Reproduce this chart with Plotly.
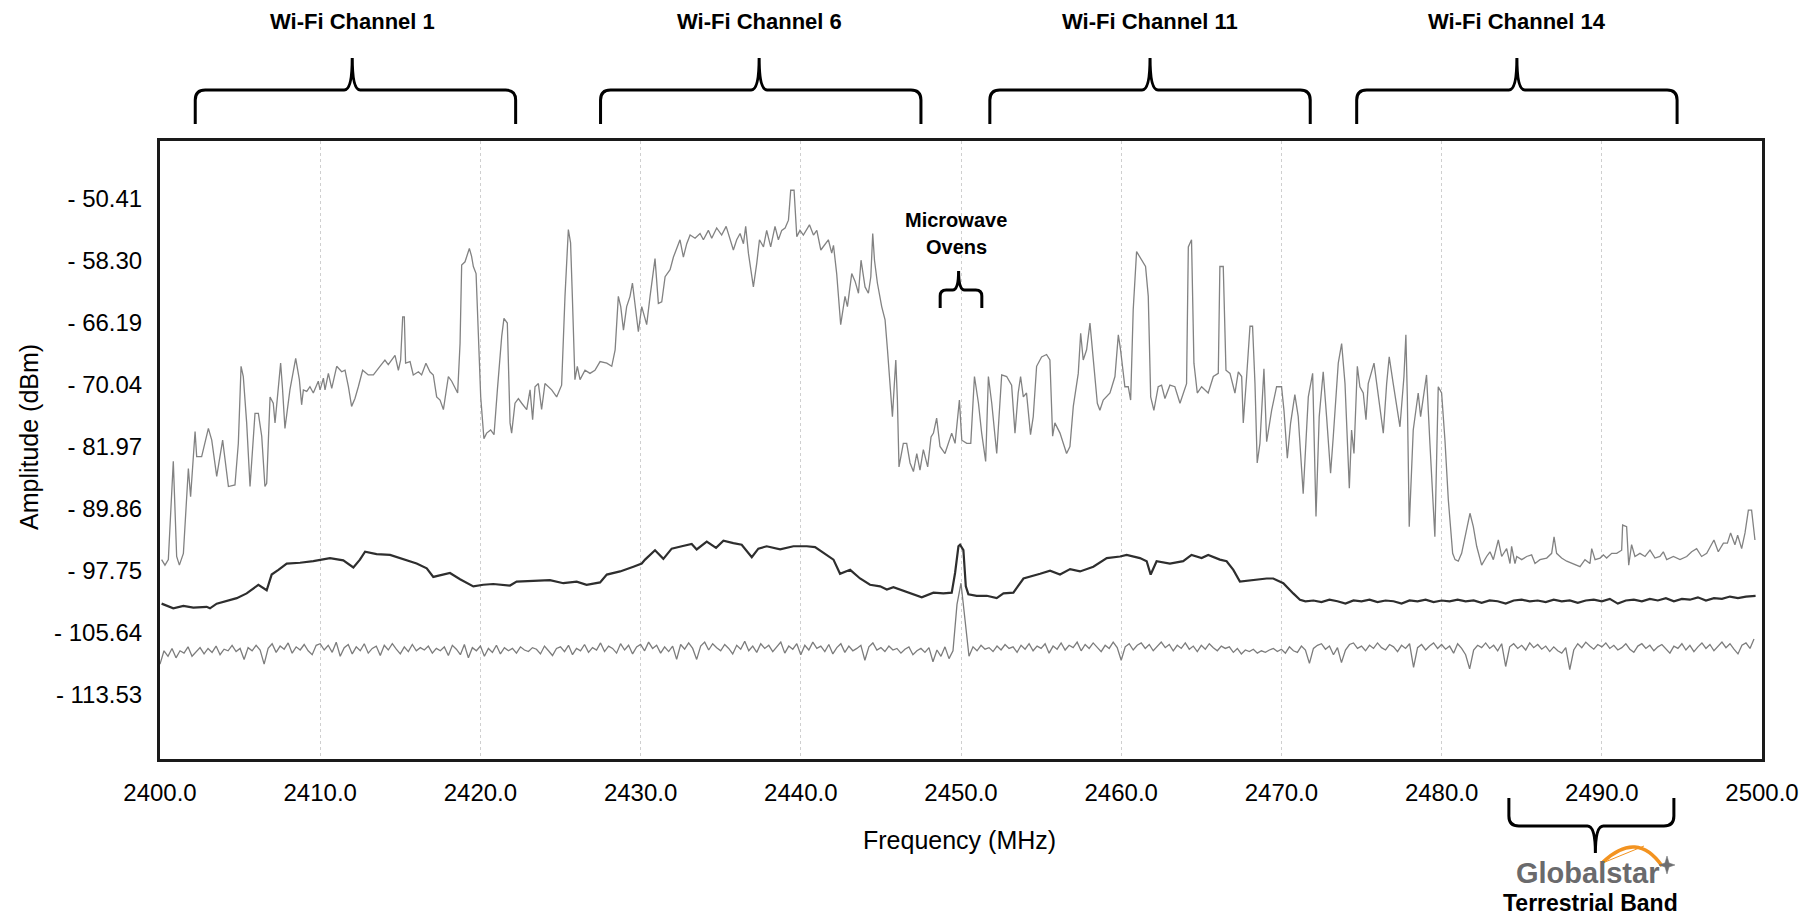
import plotly.graph_objects as go

# ---------------------------------------------------------------- data
# Max-hold sweep (light trace): frequency (MHz) / amplitude (dBm)
TOP_FREQ = [
    2400.10, 2400.31, 2400.52, 2400.83, 2401.04, 2401.21, 2401.46, 2401.77, 2401.91, 2402.08,
    2402.19, 2402.29, 2402.60, 2403.02, 2403.23, 2403.54, 2403.91, 2404.27, 2404.68, 2404.89,
    2405.06, 2405.20, 2405.41, 2405.62, 2405.93, 2406.14, 2406.35, 2406.55, 2406.66, 2406.87,
    2407.07, 2407.18, 2407.39, 2407.53, 2407.64, 2407.80, 2408.11, 2408.47, 2408.70, 2408.84,
    2408.95, 2409.16, 2409.36, 2409.57, 2409.88, 2409.99, 2410.20, 2410.30, 2410.51, 2410.72,
    2411.03, 2411.34, 2411.55, 2411.76, 2411.96, 2412.17, 2412.38, 2412.65, 2413.00, 2413.32,
    2413.73, 2414.04, 2414.25, 2414.46, 2414.67, 2414.88, 2415.02, 2415.15, 2415.25, 2415.33,
    2415.61, 2415.81, 2416.13, 2416.33, 2416.60, 2416.85, 2417.06, 2417.27, 2417.48, 2417.69,
    2418.00, 2418.21, 2418.58, 2418.73, 2418.83, 2419.04, 2419.31, 2419.45, 2419.56, 2419.73,
    2419.87, 2420.02, 2420.22, 2420.39, 2420.64, 2420.85, 2421.06, 2421.33, 2421.47, 2421.68,
    2421.85, 2421.95, 2422.16, 2422.37, 2422.58, 2422.89, 2423.10, 2423.26, 2423.41, 2423.62,
    2423.82, 2424.03, 2424.45, 2424.76, 2425.07, 2425.28, 2425.49, 2425.63, 2425.74, 2425.90,
    2426.05, 2426.22, 2426.53, 2426.84, 2427.15, 2427.47, 2427.89, 2428.20, 2428.41, 2428.61,
    2428.76, 2428.93, 2429.13, 2429.34, 2429.49, 2429.65, 2429.86, 2430.07, 2430.38, 2430.59,
    2430.90, 2431.11, 2431.32, 2431.53, 2431.84, 2432.05, 2432.46, 2432.67, 2432.88, 2433.09,
    2433.40, 2433.71, 2433.92, 2434.23, 2434.44, 2434.75, 2435.06, 2435.34, 2435.59, 2435.79,
    2436.00, 2436.21, 2436.42, 2436.56, 2436.73, 2436.94, 2437.04, 2437.25, 2437.42, 2437.67,
    2437.87, 2438.12, 2438.39, 2438.60, 2438.81, 2439.02, 2439.23, 2439.37, 2439.58, 2439.75,
    2439.95, 2440.16, 2440.54, 2440.79, 2441.00, 2441.25, 2441.45, 2441.72, 2441.93, 2442.04,
    2442.24, 2442.49, 2442.76, 2442.91, 2443.18, 2443.39, 2443.60, 2443.76, 2444.01, 2444.22,
    2444.37, 2444.49, 2444.60, 2444.78, 2445.05, 2445.26, 2445.41, 2445.57, 2445.72, 2445.84,
    2445.93, 2446.03, 2446.13, 2446.40, 2446.61, 2446.82, 2447.03, 2447.24, 2447.44, 2447.65,
    2447.92, 2448.13, 2448.28, 2448.48, 2448.69, 2449.00, 2449.21, 2449.42, 2449.63, 2449.90,
    2450.05, 2450.36, 2450.61, 2450.84, 2451.09, 2451.29, 2451.54, 2451.71, 2451.92, 2452.23,
    2452.54, 2452.85, 2453.16, 2453.37, 2453.57, 2453.72, 2453.89, 2454.09, 2454.34, 2454.51,
    2454.72, 2455.03, 2455.34, 2455.55, 2455.72, 2455.86, 2456.18, 2456.59, 2456.80, 2457.01,
    2457.32, 2457.47, 2457.63, 2457.84, 2458.05, 2458.26, 2458.51, 2458.67, 2458.88, 2459.30,
    2459.61, 2459.82, 2459.96, 2460.23, 2460.44, 2460.59, 2460.75, 2460.96, 2461.27, 2461.52,
    2461.69, 2461.84, 2462.04, 2462.31, 2462.52, 2462.73, 2463.04, 2463.35, 2463.67, 2463.87,
    2464.08, 2464.19, 2464.39, 2464.54, 2464.75, 2465.02, 2465.43, 2465.75, 2466.06, 2466.16,
    2466.37, 2466.54, 2466.79, 2467.10, 2467.31, 2467.52, 2467.62, 2467.83, 2468.04, 2468.20,
    2468.35, 2468.49, 2468.66, 2468.91, 2469.08, 2469.39, 2469.70, 2470.01, 2470.16, 2470.37,
    2470.57, 2470.84, 2471.05, 2471.36, 2471.68, 2471.95, 2472.16, 2472.36, 2472.61, 2472.82,
    2473.07, 2473.24, 2473.55, 2473.76, 2473.97, 2474.24, 2474.38, 2474.53, 2474.74, 2474.90,
    2475.11, 2475.28, 2475.42, 2475.78, 2476.05, 2476.36, 2476.57, 2476.73, 2476.98, 2477.40,
    2477.65, 2477.77, 2477.86, 2477.98, 2478.23, 2478.54, 2478.69, 2479.06, 2479.27, 2479.58,
    2479.79, 2480.00, 2480.21, 2480.42, 2480.69, 2480.84, 2481.04, 2481.25, 2481.77, 2481.98,
    2482.19, 2482.50, 2482.81, 2483.02, 2483.23, 2483.54, 2483.75, 2484.06, 2484.27, 2484.37,
    2484.58, 2484.69, 2485.00, 2485.31, 2485.62, 2485.83, 2486.14, 2486.56, 2486.87, 2487.02,
    2487.18, 2487.49, 2487.81, 2488.22, 2488.64, 2488.95, 2489.26, 2489.37, 2489.58, 2489.89,
    2490.10, 2490.30, 2490.62, 2490.93, 2491.24, 2491.30, 2491.55, 2491.68, 2491.86, 2492.07,
    2492.38, 2492.70, 2493.01, 2493.32, 2493.63, 2493.84, 2494.05, 2494.47, 2494.88, 2495.30,
    2495.61, 2495.92, 2496.23, 2496.55, 2496.80, 2497.00, 2497.27, 2497.59, 2497.84, 2498.04,
    2498.31, 2498.48, 2498.73, 2498.94, 2499.15, 2499.35, 2499.56,
]
TOP_DBM = [
    -96.3, -97.0, -96.3, -83.8, -95.9, -97.0, -95.5, -84.7, -88.3, -83.4,
    -80.0, -83.2, -83.2, -79.6, -81.1, -85.7, -81.1, -87.0, -86.8, -81.5,
    -71.7, -73.0, -78.9, -87.0, -77.7, -77.7, -80.6, -87.0, -86.6, -75.6,
    -76.4, -78.9, -73.9, -71.3, -74.3, -79.6, -74.7, -70.7, -73.4, -76.6,
    -74.7, -74.9, -74.3, -75.1, -73.6, -74.7, -73.2, -74.7, -72.6, -74.5,
    -71.7, -72.4, -72.2, -74.3, -76.8, -75.8, -74.3, -72.2, -72.8, -72.8,
    -71.7, -70.9, -71.5, -70.9, -70.3, -72.2, -70.9, -65.4, -65.4, -71.3,
    -71.1, -72.8, -72.4, -72.8, -71.3, -72.4, -72.8, -75.6, -76.0, -77.2,
    -73.0, -73.6, -75.1, -68.8, -58.8, -58.4, -56.7, -57.7, -59.0, -59.9,
    -68.3, -75.6, -80.9, -80.2, -79.8, -80.4, -74.7, -67.9, -65.6, -66.2,
    -78.9, -80.2, -76.4, -75.8, -76.4, -77.2, -74.7, -78.5, -74.3, -73.9,
    -77.2, -73.9, -74.7, -75.6, -74.1, -62.8, -54.3, -56.0, -62.8, -73.4,
    -71.7, -73.4, -72.2, -72.6, -72.2, -71.1, -71.3, -71.7, -69.6, -62.8,
    -64.1, -67.1, -64.1, -62.8, -61.1, -64.1, -67.3, -64.1, -66.4, -62.8,
    -58.0, -63.7, -63.5, -60.3, -59.4, -57.8, -55.6, -57.8, -56.1, -55.0,
    -55.4, -54.8, -55.6, -54.4, -55.4, -54.1, -55.0, -53.9, -55.6, -56.9,
    -55.6, -54.8, -56.1, -53.9, -57.3, -60.3, -61.6, -58.6, -55.6, -56.5,
    -54.4, -56.5, -53.9, -55.6, -54.4, -54.1, -53.1, -49.3, -49.3, -55.2,
    -54.4, -55.0, -53.7, -55.0, -54.4, -56.9, -56.3, -55.6, -57.3, -56.3,
    -59.9, -66.4, -62.8, -64.1, -59.9, -60.9, -62.4, -58.2, -61.6, -62.4,
    -60.3, -54.8, -58.2, -61.1, -64.1, -65.8, -69.6, -73.9, -78.1, -73.9,
    -70.9, -76.0, -84.5, -81.5, -81.5, -84.0, -85.1, -82.8, -84.9, -82.3,
    -84.5, -80.7, -80.2, -78.3, -81.9, -82.8, -81.5, -80.2, -81.5, -76.0,
    -81.1, -81.5, -81.5, -73.0, -76.4, -80.2, -83.8, -73.0, -76.4, -82.8,
    -72.8, -73.0, -74.1, -80.2, -75.1, -73.0, -75.6, -75.1, -80.4, -78.1,
    -71.7, -70.5, -70.2, -70.9, -80.6, -78.9, -80.2, -82.8, -81.9, -76.8,
    -72.6, -67.5, -70.9, -69.6, -66.2, -71.3, -76.4, -77.3, -76.0, -75.1,
    -73.0, -67.7, -69.6, -74.3, -74.3, -76.0, -64.5, -57.1, -58.2, -59.0,
    -62.8, -75.6, -77.3, -74.3, -74.1, -75.8, -74.1, -74.3, -76.4, -75.1,
    -73.9, -56.5, -55.6, -71.3, -75.1, -74.3, -75.1, -73.0, -72.6, -59.0,
    -59.0, -72.2, -72.6, -75.1, -72.4, -73.0, -78.9, -73.0, -66.6, -66.6,
    -73.9, -84.0, -81.5, -72.0, -81.3, -77.3, -74.3, -74.3, -77.3, -83.4,
    -79.0, -75.3, -78.1, -87.9, -75.6, -72.6, -90.8, -78.1, -72.4, -78.1,
    -85.3, -80.6, -71.3, -68.8, -73.9, -87.2, -79.8, -82.8, -71.7, -74.3,
    -75.1, -78.5, -73.9, -71.3, -75.6, -80.2, -73.9, -70.5, -73.9, -79.4,
    -73.0, -67.7, -75.6, -92.1, -79.8, -75.1, -78.1, -72.8, -81.5, -93.4,
    -74.3, -75.1, -81.1, -88.7, -95.5, -96.3, -96.5, -95.5, -90.4, -92.1,
    -94.6, -97.0, -95.9, -95.3, -96.3, -93.8, -95.9, -94.9, -96.8, -94.6,
    -96.8, -95.9, -96.3, -95.9, -95.7, -96.8, -96.3, -96.1, -95.5, -93.4,
    -95.5, -96.1, -96.5, -96.8, -97.2, -96.3, -96.8, -94.9, -96.3, -96.1,
    -95.7, -96.1, -95.5, -95.5, -95.1, -91.9, -92.1, -97.0, -94.4, -95.9,
    -95.5, -95.9, -95.1, -96.1, -95.9, -95.3, -96.3, -95.9, -96.3, -95.9,
    -95.3, -94.9, -95.9, -95.5, -94.6, -93.8, -95.3, -94.2, -94.2, -92.9,
    -94.4, -93.2, -94.9, -92.9, -90.0, -90.0, -93.8,
]

# Average sweep (dark trace)
AVG_FREQ = [
    2400.10, 2400.83, 2401.46, 2402.08, 2402.91, 2403.12, 2403.54, 2404.37, 2404.79, 2405.41,
    2406.14, 2406.66, 2406.97, 2407.39, 2407.91, 2408.74, 2409.57, 2410.61, 2411.44, 2412.07,
    2412.48, 2412.80, 2413.52, 2414.36, 2415.19, 2416.02, 2416.65, 2417.06, 2418.10, 2418.73,
    2419.56, 2420.18, 2420.80, 2421.85, 2422.26, 2423.30, 2424.34, 2425.18, 2426.01, 2426.63,
    2427.47, 2427.89, 2428.72, 2429.55, 2430.07, 2430.28, 2430.90, 2431.42, 2431.94, 2432.57,
    2433.19, 2433.50, 2434.13, 2434.71, 2435.17, 2435.79, 2436.31, 2436.94, 2437.35, 2437.87,
    2438.71, 2439.54, 2440.37, 2440.89, 2441.62, 2442.04, 2442.45, 2443.08, 2443.70, 2444.32,
    2444.95, 2445.37, 2445.78, 2446.61, 2447.55, 2448.28, 2448.90, 2449.42, 2449.63, 2449.84,
    2449.94, 2450.15, 2450.30, 2450.46, 2450.98, 2451.61, 2452.23, 2452.65, 2453.27, 2453.90,
    2454.31, 2454.94, 2455.56, 2456.18, 2456.81, 2457.43, 2458.26, 2459.10, 2459.93, 2460.34,
    2461.17, 2461.59, 2461.84, 2462.21, 2463.04, 2463.87, 2464.39, 2465.02, 2465.43, 2466.16,
    2466.58, 2467.00, 2467.41, 2468.24, 2469.08, 2469.49, 2470.12, 2470.74, 2471.16, 2471.50,
    2472.00, 2472.50, 2473.00, 2473.50, 2474.00, 2474.50, 2475.00, 2475.50, 2476.00, 2476.50,
    2477.00, 2477.50, 2478.00, 2478.50, 2479.00, 2479.50, 2480.00, 2480.50, 2481.00, 2481.50,
    2482.00, 2482.50, 2483.00, 2483.50, 2484.00, 2484.50, 2485.00, 2485.50, 2486.00, 2486.50,
    2487.00, 2487.50, 2488.00, 2488.50, 2489.00, 2489.50, 2490.00, 2490.50, 2491.00, 2491.50,
    2492.00, 2492.50, 2493.00, 2493.50, 2494.00, 2494.50, 2495.00, 2495.50, 2496.00, 2496.50,
    2497.00, 2497.50, 2498.00, 2498.50, 2499.00, 2499.60,
]
AVG_DBM = [
    -101.9, -102.5, -102.2, -102.4, -102.3, -102.5, -101.9, -101.4, -101.2, -100.6,
    -99.5, -100.2, -98.2, -97.6, -96.8, -96.7, -96.5, -96.1, -96.4, -97.3,
    -96.3, -95.3, -95.6, -95.7, -96.3, -96.8, -97.4, -98.5, -98.0, -98.8,
    -99.7, -99.5, -99.4, -99.6, -99.1, -99.0, -98.9, -99.3, -99.1, -99.5,
    -99.2, -98.2, -97.8, -97.2, -96.8, -96.3, -95.1, -96.2, -94.9, -94.6,
    -94.3, -95.0, -94.0, -94.8, -93.9, -94.2, -94.4, -96.0, -94.9, -94.6,
    -95.0, -94.6, -94.6, -94.7, -95.7, -96.3, -98.1, -97.6, -98.7, -99.5,
    -99.7, -100.1, -99.8, -100.4, -101.1, -100.5, -100.6, -100.5, -98.0, -94.6,
    -94.4, -95.1, -99.7, -100.7, -100.9, -100.9, -101.2, -100.6, -100.5, -98.7,
    -98.5, -98.1, -97.7, -98.2, -97.5, -97.8, -97.2, -96.1, -95.9, -95.7,
    -96.1, -96.5, -98.2, -96.5, -96.8, -96.5, -95.7, -96.1, -95.7, -96.3,
    -96.5, -97.6, -99.1, -98.9, -98.7, -98.7, -99.3, -100.6, -101.4, -101.6,
    -101.5, -101.7, -101.4, -101.6, -101.9, -101.5, -101.6, -101.4, -101.7, -101.5,
    -101.6, -101.9, -101.5, -101.6, -101.4, -101.7, -101.5, -101.6, -101.4, -101.6,
    -101.5, -101.8, -101.5, -101.6, -101.9, -101.5, -101.4, -101.6, -101.5, -101.7,
    -101.4, -101.6, -101.5, -101.8, -101.5, -101.4, -101.6, -101.3, -101.9, -101.5,
    -101.4, -101.6, -101.3, -101.5, -101.2, -101.6, -101.3, -101.4, -101.1, -101.5,
    -101.2, -101.3, -101.0, -101.2, -101.0, -100.9,
]

# Noise floor sweep: one reading every 0.25 MHz from 2400.00 MHz
FLOOR_START, FLOOR_STEP = 2400.0, 0.25
FLOOR_DBM = [
    -109.6, -107.9, -108.6, -107.6, -108.8, -107.9, -108.2, -107.4, -108.6, -108.0,
    -107.5, -108.3, -107.6, -108.1, -107.3, -108.4, -107.7, -107.9, -107.2, -108.0,
    -107.6, -109.0, -107.5, -107.9, -107.2, -107.8, -109.6, -107.6, -107.0, -108.1,
    -107.3, -107.7, -106.9, -108.2, -107.4, -107.8, -107.1, -107.9, -108.4, -107.2,
    -107.0, -107.8, -107.2, -108.1, -106.8, -108.6, -107.5, -107.1, -108.3, -107.4,
    -107.9, -107.0, -108.2, -107.6, -107.3, -108.5, -107.2, -107.8, -107.0, -107.7,
    -108.3, -107.4, -108.0, -107.1, -107.9, -107.5, -107.8, -107.3, -108.2, -107.6,
    -107.9, -107.4, -108.5, -107.2, -107.7, -108.4, -107.1, -108.8, -107.5, -107.9,
    -107.3, -108.6, -107.6, -108.1, -107.2, -108.3, -107.5, -107.9, -107.6, -108.2,
    -107.4, -107.8, -108.0, -107.5, -107.7, -108.3, -107.3, -107.9, -108.5, -107.6,
    -107.4, -108.0, -107.2, -108.4, -107.6, -107.9, -107.1, -108.1, -107.5, -107.8,
    -106.9, -108.0, -107.3, -107.6, -108.2, -107.0, -107.8, -107.2, -108.3, -107.4,
    -107.1, -107.9, -106.8, -107.6, -107.2, -108.2, -107.4, -108.0, -107.3, -109.0,
    -107.1, -107.7, -106.9, -107.6, -109.0, -107.3, -106.8, -107.8, -107.0, -107.5,
    -107.9, -107.1, -107.6, -108.3, -107.2, -107.7, -106.7, -107.9, -107.3, -108.1,
    -107.0, -107.6, -107.2, -108.0, -107.4, -106.8, -108.2, -107.3, -107.7, -107.0,
    -108.4, -107.2, -107.8, -106.8, -107.6, -107.3, -108.0, -107.1, -108.3, -107.5,
    -107.0, -108.1, -107.3, -107.9, -107.6, -107.2, -109.1, -107.4, -106.9, -107.8,
    -107.5, -108.0, -107.3, -107.8, -107.6, -108.2, -107.7, -107.4, -108.4, -107.9,
    -107.6, -108.1, -107.5, -109.3, -107.8, -108.6, -107.4, -108.9, -107.9, -102.0,
    -99.3, -103.8, -108.6, -107.4, -107.9, -107.2, -107.7, -107.5, -108.0, -107.3,
    -107.8, -107.1, -107.6, -107.4, -108.1, -107.2, -107.7, -107.0, -107.9, -107.3,
    -107.6, -107.0, -108.2, -107.3, -107.7, -106.9, -107.8, -107.2, -107.5, -106.8,
    -107.9, -107.1, -107.6, -106.9, -107.4, -108.0, -107.2, -107.6, -106.8, -107.5,
    -109.1, -107.4, -107.0, -107.8, -107.2, -106.9, -107.6, -107.1, -107.9, -107.3,
    -106.8, -107.5, -107.1, -107.9, -107.2, -107.6, -106.9, -107.7, -107.3, -108.0,
    -107.2, -107.7, -107.0, -107.5, -107.9, -107.3, -107.6, -107.4, -108.1, -107.6,
    -108.3, -107.8, -108.0, -107.7, -108.2, -107.9, -108.1, -107.8, -107.6, -108.0,
    -107.7, -108.2, -107.4, -107.9, -108.1, -107.3, -107.8, -109.5, -107.6, -107.2,
    -107.0, -107.7, -107.3, -108.4, -107.5, -109.4, -107.8, -107.1, -106.9, -107.6,
    -107.3, -107.9, -107.2, -107.6, -106.9, -107.5, -107.8, -107.1, -107.4, -108.0,
    -107.2, -107.6, -107.0, -110.0, -107.5, -107.1, -107.8, -107.3, -106.9, -107.6,
    -107.1, -107.7, -107.3, -108.2, -107.0, -107.6, -108.4, -110.2, -107.8, -107.2,
    -107.5, -106.9, -107.6, -107.2, -107.9, -107.0, -109.9, -107.4, -107.0, -107.6,
    -107.2, -107.8, -106.9, -107.5, -107.1, -107.7, -107.3, -108.0, -107.4, -107.9,
    -108.2, -107.5, -110.3, -107.8, -107.0, -107.5, -106.8, -107.3, -107.7, -107.1,
    -107.4, -106.9, -107.6, -107.2, -107.8, -107.5, -107.0, -107.7, -108.1, -107.3,
    -107.0, -107.6, -107.2, -107.9, -107.4, -107.1, -107.7, -108.2, -107.3, -107.6,
    -107.0, -107.8, -107.2, -108.0, -107.4, -106.9, -107.6, -107.1, -107.9, -107.3,
    -106.8, -107.5, -107.0, -107.7, -108.3, -107.2, -106.9, -107.6, -106.4,
]

# Axis ticks
Y_TICK_VALS = [-50.41, -58.30, -66.19, -74.08, -81.97, -89.86, -97.75, -105.64, -113.53]
Y_TICK_TEXT = ["- 50.41", "- 58.30", "- 66.19", "- 70.04", "- 81.97",
               "- 89.86", "- 97.75", "- 105.64", "- 113.53"]

# Band annotations: label, low edge, centre, high edge (MHz)
CHANNEL_LABELS = ["Wi-Fi Channel 1", "Wi-Fi Channel 6", "Wi-Fi Channel 11", "Wi-Fi Channel 14"]
CHANNEL_LOW = [2402.2, 2427.5, 2451.8, 2474.7]
CHANNEL_MID = [2412.0, 2437.4, 2461.8, 2484.7]
CHANNEL_HIGH = [2422.2, 2447.5, 2471.8, 2494.7]
MICROWAVE_BAND = (2448.7, 2449.85, 2451.3)
GLOBALSTAR_BAND = (2484.2, 2489.6, 2494.5)

# ---------------------------------------------------------------- layout geometry
FIG_W, FIG_H = 1816, 923
M_L, M_R, M_T, M_B = 160, 54, 141, 164
PLOT_W = FIG_W - M_L - M_R
PLOT_H = FIG_H - M_T - M_B
F_MIN, F_MAX = 2400.0, 2500.0
A_MIN, A_MAX = -121.67, -43.03
FONT = "Liberation Sans, Arial, sans-serif"


def paper_x(px):
    return (px - M_L) / PLOT_W


def paper_y(py):
    return (M_T + PLOT_H - py) / PLOT_H


def freq_px(f):
    return M_L + (f - F_MIN) / (F_MAX - F_MIN) * PLOT_W


def pix_path(cmds):
    out = []
    for cmd, coords in cmds:
        out.append(cmd + " ".join(f"{paper_x(x):.5f},{paper_y(y):.5f}" for x, y in coords))
    return " ".join(out)


def brace_path(x0, xc, x1, y_end, y_bar, y_tip, r=10, rc=8):
    """Curly brace in pixel units, returned as a paper-referenced SVG path."""
    s = 1 if y_end > y_bar else -1
    return pix_path([
        ("M", [(x0, y_end)]),
        ("L", [(x0, y_bar + s * r)]),
        ("Q", [(x0, y_bar), (x0 + r, y_bar)]),
        ("L", [(xc - rc, y_bar)]),
        ("Q", [(xc, y_bar), (xc, y_tip)]),
        ("Q", [(xc, y_bar), (xc + rc, y_bar)]),
        ("L", [(x1 - r, y_bar)]),
        ("Q", [(x1, y_bar), (x1, y_bar + s * r)]),
        ("L", [(x1, y_end)]),
    ])


# ---------------------------------------------------------------- traces
floor_freq = [FLOOR_START + FLOOR_STEP * i for i in range(len(FLOOR_DBM))]

fig = go.Figure()
fig.add_trace(go.Scatter(x=floor_freq, y=FLOOR_DBM, mode="lines",
                         line=dict(color="#7c7c7c", width=1.3), name="floor"))
fig.add_trace(go.Scatter(x=TOP_FREQ, y=TOP_DBM, mode="lines",
                         line=dict(color="#828282", width=1.3), name="max hold"))
fig.add_trace(go.Scatter(x=AVG_FREQ, y=AVG_DBM, mode="lines",
                         line=dict(color="#2e2e2e", width=2.2), name="average"))

# ---------------------------------------------------------------- annotations & braces
shapes = []
annotations = []

for label, lo, mid, hi in zip(CHANNEL_LABELS, CHANNEL_LOW, CHANNEL_MID, CHANNEL_HIGH):
    shapes.append(dict(type="path", xref="paper", yref="paper",
                       path=brace_path(freq_px(lo), freq_px(mid), freq_px(hi), 124, 90, 58),
                       line=dict(color="black", width=3)))
    annotations.append(dict(text=f"<b>{label}</b>", xref="paper", yref="paper",
                            x=paper_x(freq_px(mid)), y=paper_y(21), showarrow=False,
                            xanchor="center", yanchor="middle",
                            font=dict(family=FONT, size=22, color="black")))

lo, mid, hi = MICROWAVE_BAND
shapes.append(dict(type="path", xref="paper", yref="paper",
                   path=brace_path(freq_px(lo), freq_px(mid), freq_px(hi), 308, 290, 271, r=6, rc=6),
                   line=dict(color="black", width=3)))
annotations.append(dict(text="<b>Microwave</b>", xref="paper", yref="paper",
                        x=paper_x(956), y=paper_y(220), showarrow=False,
                        xanchor="center", yanchor="middle",
                        font=dict(family=FONT, size=20, color="black")))
annotations.append(dict(text="<b>Ovens</b>", xref="paper", yref="paper",
                        x=paper_x(956), y=paper_y(247), showarrow=False,
                        xanchor="center", yanchor="middle",
                        font=dict(family=FONT, size=20, color="black")))

lo, mid, hi = GLOBALSTAR_BAND
shapes.append(dict(type="path", xref="paper", yref="paper",
                   path=brace_path(freq_px(lo), freq_px(mid), freq_px(hi), 798, 826, 853),
                   line=dict(color="black", width=3)))

# Globalstar wordmark: orbit swoosh, star and name
shapes.append(dict(type="path", xref="paper", yref="paper",
                   path=pix_path([("M", [(1603, 862)]), ("Q", [(1637, 830), (1662, 866)])]),
                   line=dict(color="#f39320", width=3.5)))
shapes.append(dict(type="path", xref="paper", yref="paper",
                   path=pix_path([("M", [(1605, 862)]), ("L", [(1644, 846)])]),
                   line=dict(color="#f39320", width=1)))
cx, cy = 1667, 865
shapes.append(dict(type="path", xref="paper", yref="paper",
                   path=pix_path([("M", [(cx, cy - 9)]), ("L", [(cx + 2, cy - 2)]),
                                  ("L", [(cx + 8, cy)]), ("L", [(cx + 2, cy + 2)]),
                                  ("L", [(cx, cy + 9)]), ("L", [(cx - 2, cy + 2)]),
                                  ("L", [(cx - 8, cy)]), ("L", [(cx - 2, cy - 2)])]) + " Z",
                   fillcolor="#6d6e71", line=dict(color="#6d6e71", width=0.5)))
annotations.append(dict(text="<b>Globalstar</b>", xref="paper", yref="paper",
                        x=paper_x(1587), y=paper_y(873), showarrow=False,
                        xanchor="center", yanchor="middle",
                        font=dict(family=FONT, size=29, color="#6a6a6c")))
annotations.append(dict(text="<b>Terrestrial Band</b>", xref="paper", yref="paper",
                        x=paper_x(1590), y=paper_y(903), showarrow=False,
                        xanchor="center", yanchor="middle",
                        font=dict(family=FONT, size=23, color="black")))

# Axis titles
annotations.append(dict(text="Amplitude (dBm)", xref="paper", yref="paper",
                        x=paper_x(29), y=paper_y(437), showarrow=False, textangle=-90,
                        xanchor="center", yanchor="middle",
                        font=dict(family=FONT, size=25, color="black")))
annotations.append(dict(text="Frequency (MHz)", xref="paper", yref="paper",
                        x=paper_x(959), y=paper_y(840), showarrow=False,
                        xanchor="center", yanchor="middle",
                        font=dict(family=FONT, size=25, color="black")))

fig.update_layout(
    width=FIG_W, height=FIG_H, autosize=False,
    margin=dict(l=M_L, r=M_R, t=M_T, b=M_B, pad=0),
    paper_bgcolor="white", plot_bgcolor="white",
    showlegend=False,
    font=dict(family=FONT, size=24, color="black"),
    shapes=shapes, annotations=annotations,
    xaxis=dict(range=[F_MIN, F_MAX], dtick=10, tick0=2400, tickformat=".1f",
               showgrid=True, gridcolor="#cfcfcf", griddash="dot", gridwidth=1,
               zeroline=False, showline=True, linecolor="#1a1a1a", linewidth=3, mirror=True,
               ticks="outside", ticklen=10, tickcolor="rgba(0,0,0,0)",
               tickfont=dict(family=FONT, size=24, color="black")),
    yaxis=dict(range=[A_MIN, A_MAX], tickvals=Y_TICK_VALS, ticktext=Y_TICK_TEXT,
               showgrid=False, zeroline=False, showline=True, linecolor="#1a1a1a",
               linewidth=3, mirror=True,
               ticks="outside", ticklen=10, tickcolor="rgba(0,0,0,0)",
               tickfont=dict(family=FONT, size=24, color="black")),
)

fig.write_html("out.html")
